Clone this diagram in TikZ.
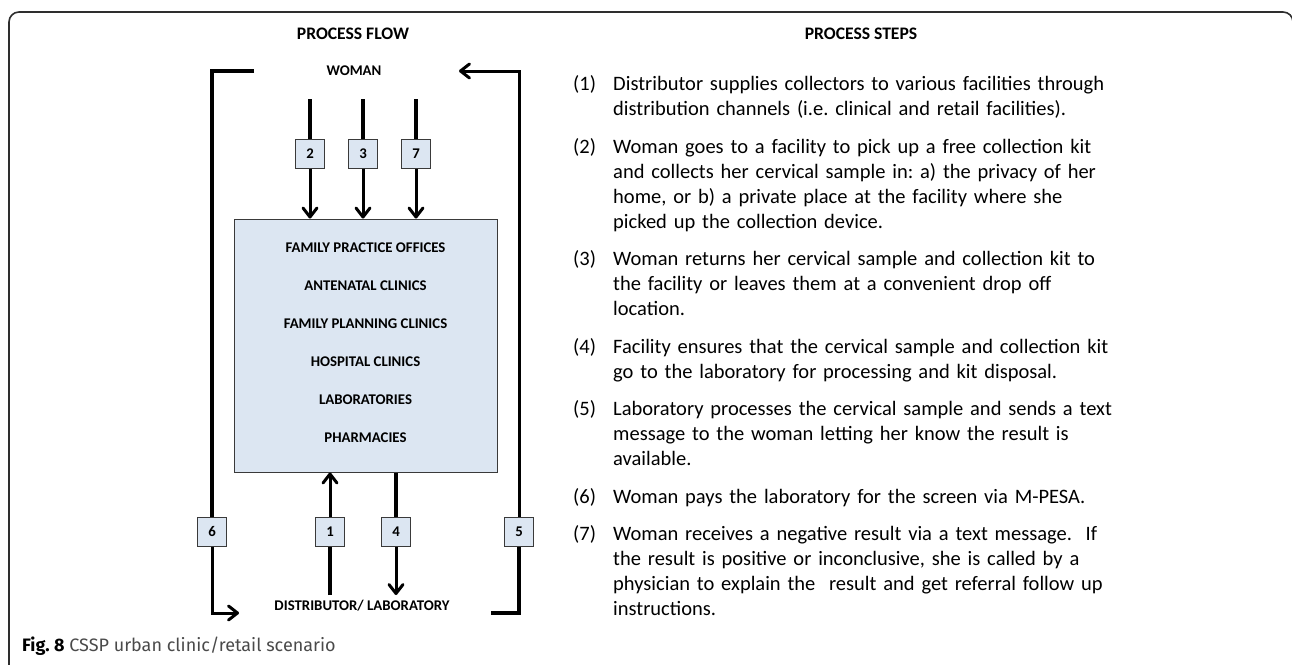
\documentclass[tikz,border=0pt]{standalone}
\usepackage{fontspec}
\setmainfont{Carlito}
\newfontfamily\capfont{Fira Sans}
\usetikzlibrary{arrows.meta}
\frenchspacing

\definecolor{boxfill}{HTML}{DCE6F2}
\definecolor{boxline}{HTML}{3A3A3A}
\definecolor{framecol}{HTML}{2E2E2E}
\definecolor{capgrey}{HTML}{4A4A4A}

\tikzset{
  header/.style={font=\bfseries\fontsize{17.6}{20}\selectfont, inner sep=0pt},
  lbl/.style={font=\bfseries\fontsize{14.8}{17}\selectfont, inner sep=0pt},
  numbox/.style={draw=boxline, fill=boxfill, line width=1pt, minimum width=29pt,
    minimum height=29pt, inner sep=0pt, font=\bfseries\fontsize{14.8}{17}\selectfont},
  bigbox/.style={draw=boxline, fill=boxfill, line width=1pt, minimum width=263pt,
    minimum height=253pt, inner sep=0pt},
  feed/.style={line width=4pt},
  flowarrow/.style={line width=3pt,
    -{Straight Barb[length=9pt,width=14pt,line width=3pt,round]}},
  stepno/.style={anchor=base west, inner sep=0pt, font=\fontsize{20.5}{25}\selectfont},
  steptext/.style={anchor=base west, inner sep=0pt, align=left, text width=600pt,
    font=\fontsize{20.5}{25}\selectfont}
}

\begin{document}
\begin{tikzpicture}[x=1pt, y=-1pt]
\useasboundingbox (0,0) rectangle (1292,664);

% figure frame, open at the bottom and right
\draw[framecol, line width=1.6pt, rounded corners=10pt]
  (9,680) -- (9,12) -- (1293,12) -- (1293,680);

% column headings
\node[header] (hflow) at (353,34) {PROCESS FLOW};
\node[header] (hsteps) at (861,34) {PROCESS STEPS};

% actors
\node[lbl] (woman) at (354,71) {WOMAN};
\node[lbl] (dist) at (362,606) {DISTRIBUTOR/ LABORATORY};

% facilities
\node[bigbox] (main) at (365.5,345.5) {};
\node[lbl] (f1) at (365.5,248) {FAMILY PRACTICE OFFICES};
\node[lbl] (f2) at (365.5,286) {ANTENATAL CLINICS};
\node[lbl] (f3) at (365.5,324) {FAMILY PLANNING CLINICS};
\node[lbl] (f4) at (365.5,362) {HOSPITAL CLINICS};
\node[lbl] (f5) at (365.5,400) {LABORATORIES};
\node[lbl] (f6) at (365.5,438) {PHARMACIES};

% step markers
\node[numbox] (n2) at (310,153.5) {2};
\node[numbox] (n3) at (363,153.5) {3};
\node[numbox] (n7) at (416,153.5) {7};
\node[numbox] (n6) at (212,531.5) {6};
\node[numbox] (n1) at (330,531.5) {1};
\node[numbox] (n4) at (396,531.5) {4};
\node[numbox] (n5) at (519,531.5) {5};

% free ends of the connectors
\coordinate (t2) at (310,99);
\coordinate (t3) at (363,99);
\coordinate (t7) at (416,99);
\coordinate (b1) at (330,595);
\coordinate (b4) at (396,595);
\coordinate (l6a) at (254,71);
\coordinate (l6b) at (239,613);
\coordinate (l5a) at (491,613);
\coordinate (l5b) at (459,71);

% woman to facilities
\foreach \n/\t in {n2/t2, n3/t3, n7/t7} {
  \draw[feed] (\t) -- (\n.north);
  \draw[flowarrow] (\n.south) -- (\n.south |- main.north);
}

% distributor to facilities, facilities to laboratory
\draw[feed] (b1) -- (n1.south);
\draw[flowarrow] (n1.north) -- (n1.north |- main.south);
\draw[feed] (n4.north |- main.south) -- (n4.north);
\draw[flowarrow] (n4.south) -- (b4);

% payment loop (6) and result loop (5)
\draw[feed] (l6a) -- (l6a -| n6) -- (n6.north);
\draw[flowarrow] (n6.south) -- (n6.south |- l6b) -- (l6b);
\draw[feed] (l5a) -- (l5a -| n5) -- (n5.south);
\draw[flowarrow] (n5.north) -- (n5.north |- l5b) -- (l5b);

% process steps
\node[stepno] (s1) at (573,90) {(1)};
\node[steptext] (p1) at (613,90) {Distributor supplies collectors to various facilities through\\
  distribution channels (i.e. clinical and retail facilities).};
\node[stepno] (s2) at (573,153) {(2)};
\node[steptext] (p2) at (613,153) {Woman goes to a facility to pick up a free collection kit\\
  and collects her cervical sample in: a) the privacy of her\\
  home, or b) a private place at the facility where she\\
  picked up the collection device.};
\node[stepno] (s3) at (573,265) {(3)};
\node[steptext] (p3) at (613,265) {Woman returns her cervical sample and collection kit to\\
  the facility or leaves them at a convenient drop off\\
  location.};
\node[stepno] (s4) at (573,353) {(4)};
\node[steptext] (p4) at (613,353) {Facility ensures that the cervical sample and collection kit\\
  go to the laboratory for processing and kit disposal.};
\node[stepno] (s5) at (573,415) {(5)};
\node[steptext] (p5) at (613,415) {Laboratory processes the cervical sample and sends a text\\
  message to the woman letting her know the result is\\
  available.};
\node[stepno] (s6) at (573,503) {(6)};
\node[steptext] (p6) at (613,503) {Woman pays the laboratory for the screen via M-PESA.};
\node[stepno] (s7) at (573,540) {(7)};
\node[steptext] (p7) at (613,540) {Woman receives a negative result via a text message.\ \ If\\
  the result is positive or inconclusive, she is called by a\\
  physician to explain the\ \ result and get referral follow up\\
  instructions.};

% caption
\node[anchor=base west, inner sep=0pt, font=\capfont\fontsize{18}{21}\selectfont, text=capgrey]
  (cap) at (22,651) {\textbf{\color{black}Fig. 8} CSSP urban clinic/retail scenario};
\end{tikzpicture}
\end{document}
